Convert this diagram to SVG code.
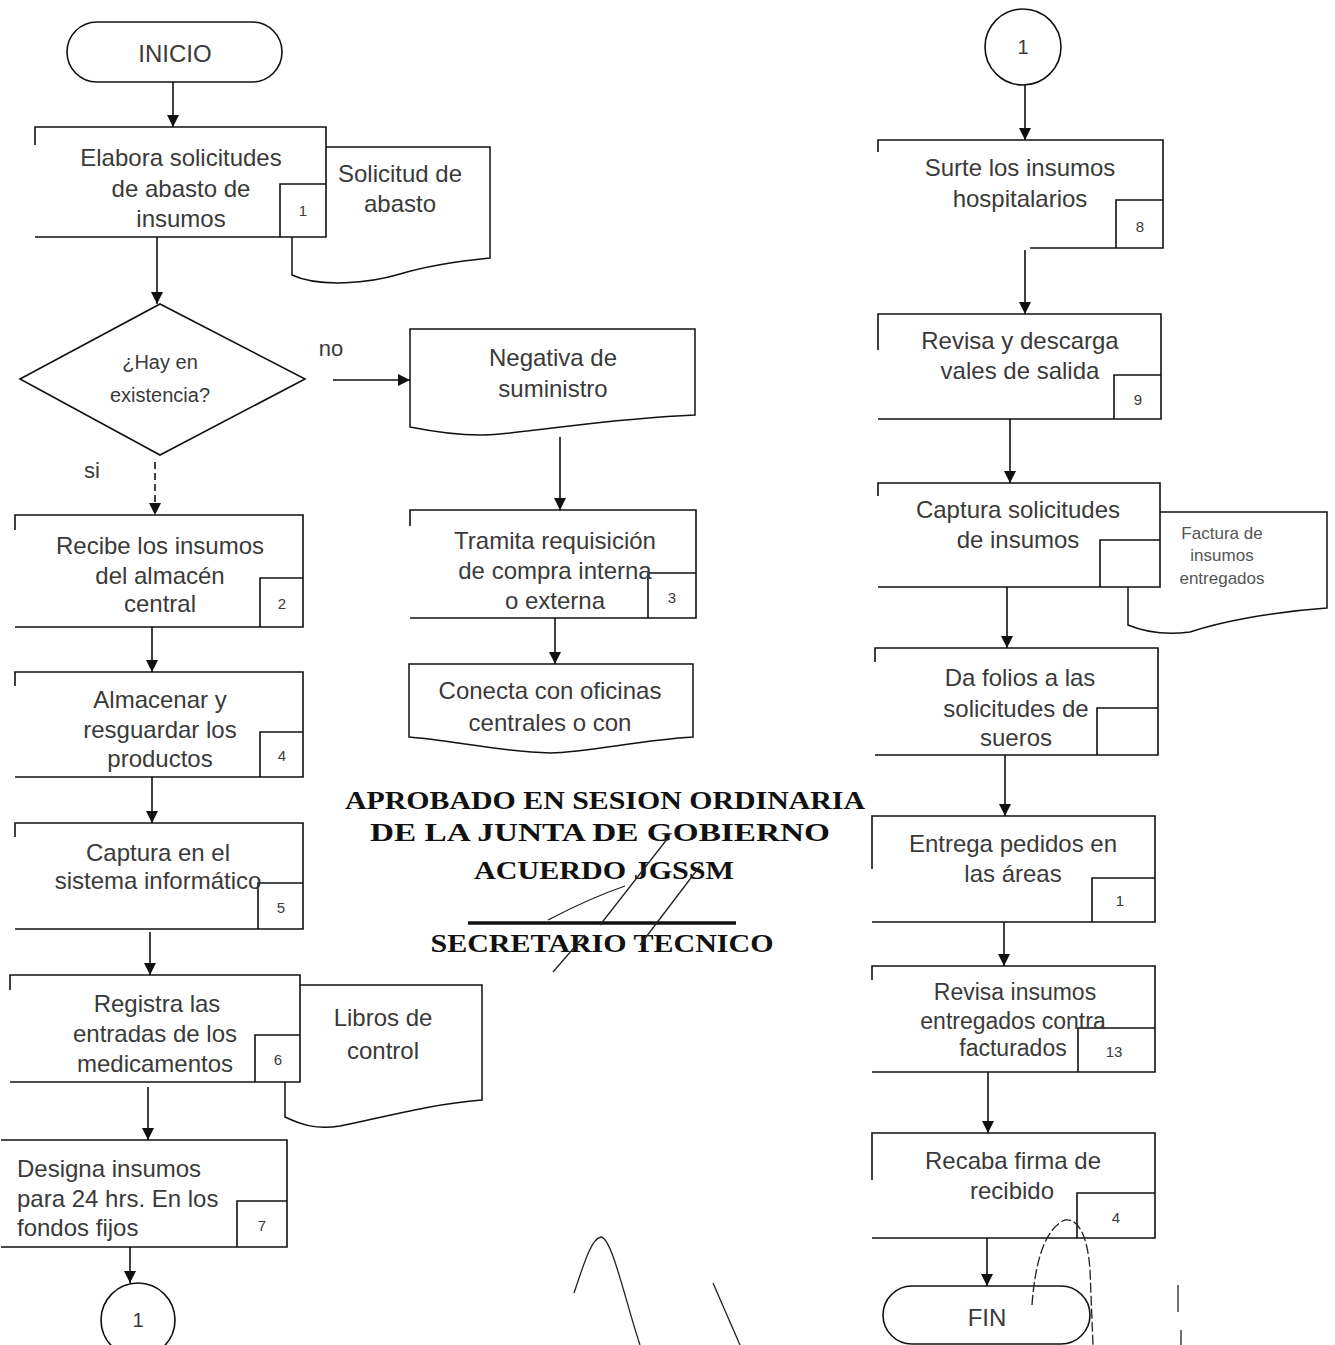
<svg xmlns="http://www.w3.org/2000/svg" width="1335" height="1345" viewBox="0 0 1335 1345">
  <defs>
    <style>
      .ln { stroke: #111; stroke-width: 1.6; fill: none; }
      .bx { fill: #fff; stroke: none; }
      .doc { fill: #fff; stroke: #111; stroke-width: 1.5; }
      .t { font-family: "Liberation Sans", Arial, sans-serif; font-size: 24px; fill: #3a3a3a; text-anchor: middle; dominant-baseline: central; }
      .tl { text-anchor: start; }
      .n { font-size: 15px; }
      .sm { font-size: 17px; fill: #555; }
      .st { font-family: "Liberation Serif", "Times New Roman", serif; font-weight: bold; font-size: 26px; fill: #111; text-anchor: middle; }
      .sig { stroke: #222; stroke-width: 1.3; fill: none; }
    </style>
    <!-- filled triangular arrowhead, tip at the path end -->
    <marker id="ah" markerWidth="14" markerHeight="14" refX="13" refY="7" orient="auto" markerUnits="userSpaceOnUse" viewBox="0 0 14 14">
      <path d="M1 1 L13 7 L1 13 Z" fill="#111"/>
    </marker>
  </defs>

  <rect width="1335" height="1345" fill="#fff"/>

  <!-- documents (drawn under the process boxes that overlap them) -->
  <g id="doc-solicitud">
    <path class="doc" d="M292 147 H490 V258 C450 262 420 268 400 274 C370 283 320 288 292 275 Z"/>
    <text class="t" x="400" y="173">Solicitud de</text>
    <text class="t" x="400" y="203">abasto</text>
  </g>
  <g id="doc-libros">
    <path class="doc" d="M285 985 H482 V1100 C430 1104 380 1118 340 1126 C315 1130 300 1124 285 1117 Z"/>
    <text class="t" x="383" y="1017">Libros de</text>
    <text class="t" x="383" y="1050">control</text>
  </g>
  <g id="doc-factura">
    <path class="doc" d="M1128 512 H1327 V608 C1270 612 1220 622 1190 632 C1160 636 1140 630 1128 625 Z"/>
    <text class="t sm" x="1222" y="533">Factura de</text>
    <text class="t sm" x="1222" y="555">insumos</text>
    <text class="t sm" x="1222" y="578">entregados</text>
  </g>

  <!-- left column -->
  <g id="inicio">
    <rect class="ln" x="67" y="22" width="215" height="60" rx="30"/>
    <text class="t" x="175" y="53">INICIO</text>
  </g>

  <g id="p1">
    <rect class="bx" x="35" y="127" width="291" height="110"/>
    <path class="ln" d="M35 145 V127 H326 V237 H35 M280 237 V184 H326"/>
    <text class="t" x="181" y="157">Elabora solicitudes</text>
    <text class="t" x="181" y="188">de abasto de</text>
    <text class="t" x="181" y="218">insumos</text>
    <text class="t n" x="303" y="210">1</text>
  </g>

  <g id="decision">
    <polygon class="ln" points="20,379 160,304 305,379 160,455"/>
    <text class="t" x="160" y="362" style="font-size:20px">¿Hay en</text>
    <text class="t" x="160" y="395" style="font-size:20px">existencia?</text>
  </g>

  <g id="p2">
    <path class="ln" d="M15 530 V515 H303 V627 H15 M260 627 V578 H303"/>
    <text class="t" x="160" y="545">Recibe los insumos</text>
    <text class="t" x="160" y="575">del almacén</text>
    <text class="t" x="160" y="603">central</text>
    <text class="t n" x="282" y="603">2</text>
  </g>

  <g id="p4">
    <path class="ln" d="M15 686 V672 H303 V777 H15 M260 777 V732 H303"/>
    <text class="t" x="160" y="699">Almacenar y</text>
    <text class="t" x="160" y="729">resguardar los</text>
    <text class="t" x="160" y="758">productos</text>
    <text class="t n" x="282" y="755">4</text>
  </g>

  <g id="p5">
    <path class="ln" d="M15 837 V823 H303 V929 H15 M258 929 V883 H303"/>
    <text class="t" x="158" y="852">Captura en el</text>
    <text class="t" x="158" y="880">sistema informático</text>
    <text class="t n" x="281" y="907">5</text>
  </g>

  <g id="p6">
    <rect class="bx" x="10" y="975" width="290" height="107"/>
    <path class="ln" d="M10 990 V975 H300 V1082 H10 M255 1082 V1035 H300"/>
    <text class="t" x="157" y="1003">Registra las</text>
    <text class="t" x="155" y="1033">entradas de los</text>
    <text class="t" x="155" y="1063">medicamentos</text>
    <text class="t n" x="278" y="1059">6</text>
  </g>

  <g id="p7">
    <path class="ln" d="M1 1140 H287 V1247 H1 M237 1247 V1201 H287"/>
    <text class="t tl" x="17" y="1168">Designa insumos</text>
    <text class="t tl" x="17" y="1198">para 24 hrs. En los</text>
    <text class="t tl" x="17" y="1227">fondos fijos</text>
    <text class="t n" x="262" y="1225">7</text>
  </g>

  <g id="con-1a">
    <circle class="ln" cx="138" cy="1320" r="37"/>
    <text class="t" x="138" y="1320" style="font-size:20px">1</text>
  </g>

  <!-- middle column -->
  <g id="doc-negativa">
    <path class="doc" d="M410 329 H695 V415 C620 418 560 428 500 434 C470 437 440 433 410 427 Z"/>
    <text class="t" x="553" y="357">Negativa de</text>
    <text class="t" x="553" y="388">suministro</text>
  </g>

  <g id="p3">
    <path class="ln" d="M410 526 V510 H696 V618 H410 M648 618 V573 H696"/>
    <text class="t" x="555" y="540">Tramita requisición</text>
    <text class="t" x="555" y="570">de compra interna</text>
    <text class="t" x="555" y="600">o externa</text>
    <text class="t n" x="672" y="597">3</text>
  </g>

  <g id="doc-conecta">
    <path class="doc" d="M409 664 H693 V737 C640 740 590 752 550 753 C500 752 450 740 409 737 Z"/>
    <text class="t" x="550" y="690">Conecta con oficinas</text>
    <text class="t" x="550" y="722">centrales o con</text>
  </g>

  <!-- right column -->
  <g id="con-1b">
    <circle class="ln" cx="1023" cy="47" r="38"/>
    <text class="t" x="1023" y="47" style="font-size:20px">1</text>
  </g>

  <g id="p8">
    <path class="ln" d="M878 152 V140 H1163 V248 H1030 M1116 248 V200 H1163"/>
    <text class="t" x="1020" y="167">Surte los insumos</text>
    <text class="t" x="1020" y="198">hospitalarios</text>
    <text class="t n" x="1140" y="226">8</text>
  </g>

  <g id="p9">
    <path class="ln" d="M878 350 V314 H1161 V419 H878 M1114 419 V375 H1161"/>
    <text class="t" x="1020" y="340">Revisa y descarga</text>
    <text class="t" x="1020" y="370">vales de salida</text>
    <text class="t n" x="1138" y="399">9</text>
  </g>

  <g id="p10">
    <rect class="bx" x="878" y="483" width="282" height="104"/>
    <path class="ln" d="M878 496 V483 H1160 V587 H878 M1100 587 V540 H1160"/>
    <text class="t" x="1018" y="509">Captura solicitudes</text>
    <text class="t" x="1018" y="539">de insumos</text>
  </g>

  <g id="p11">
    <path class="ln" d="M875 662 V648 H1158 V755 H875 M1097 755 V708 H1158"/>
    <text class="t" x="1020" y="677">Da folios a las</text>
    <text class="t" x="1016" y="708">solicitudes de</text>
    <text class="t" x="1016" y="737">sueros</text>
  </g>

  <g id="p12">
    <path class="ln" d="M872 869 V816 H1155 V922 H872 M1092 922 V878 H1155"/>
    <text class="t" x="1013" y="843">Entrega pedidos en</text>
    <text class="t" x="1013" y="873">las áreas</text>
    <text class="t n" x="1120" y="900">1</text>
  </g>

  <g id="p13">
    <path class="ln" d="M872 980 V966 H1155 V1072 H872 M1078 1072 V1028 H1155"/>
    <text class="t" x="1015" y="992" style="font-size:23px">Revisa insumos</text>
    <text class="t" x="1013" y="1021" style="font-size:23px">entregados contra</text>
    <text class="t" x="1013" y="1048" style="font-size:23px">facturados</text>
    <text class="t n" x="1114" y="1051">13</text>
  </g>

  <g id="p14">
    <path class="ln" d="M872 1180 V1133 H1155 V1238 H872 M1077 1238 V1193 H1155"/>
    <text class="t" x="1013" y="1160">Recaba firma de</text>
    <text class="t" x="1012" y="1190">recibido</text>
    <text class="t n" x="1116" y="1217">4</text>
  </g>

  <g id="fin">
    <rect class="ln" x="883" y="1286" width="207" height="58" rx="29"/>
    <text class="t" x="987" y="1317">FIN</text>
  </g>

  <!-- connectors -->
  <g id="connectors" class="ln">
    <path d="M173 82 V127" marker-end="url(#ah)"/>
    <path d="M157 237 V304" marker-end="url(#ah)"/>
    <path d="M333 380 H410" marker-end="url(#ah)"/>
    <path d="M155 462 V515" marker-end="url(#ah)" stroke-dasharray="7 4"/>
    <path d="M560 437 V510" marker-end="url(#ah)"/>
    <path d="M555 618 V664" marker-end="url(#ah)"/>
    <path d="M152 627 V672" marker-end="url(#ah)"/>
    <path d="M152 777 V823" marker-end="url(#ah)"/>
    <path d="M150 932 V975" marker-end="url(#ah)"/>
    <path d="M148 1087 V1140" marker-end="url(#ah)"/>
    <path d="M130 1247 V1283" marker-end="url(#ah)"/>
    <path d="M1025 85 V140" marker-end="url(#ah)"/>
    <path d="M1025 250 V314" marker-end="url(#ah)"/>
    <path d="M1010 419 V483" marker-end="url(#ah)"/>
    <path d="M1007 587 V648" marker-end="url(#ah)"/>
    <path d="M1005 755 V816" marker-end="url(#ah)"/>
    <path d="M1004 922 V966" marker-end="url(#ah)"/>
    <path d="M988 1072 V1133" marker-end="url(#ah)"/>
    <path d="M987 1238 V1286" marker-end="url(#ah)"/>
  </g>

  <!-- branch labels -->
  <text class="t" x="331" y="348" style="font-size:22px">no</text>
  <text class="t" x="92" y="470" style="font-size:22px">si</text>

  <!-- approval stamp -->
  <g id="stamp">
    <text class="st" x="605" y="809" textLength="520" lengthAdjust="spacingAndGlyphs">APROBADO EN SESION ORDINARIA</text>
    <text class="st" x="600" y="841" textLength="460" lengthAdjust="spacingAndGlyphs">DE LA JUNTA DE GOBIERNO</text>
    <text class="st" x="604" y="879" textLength="260" lengthAdjust="spacingAndGlyphs">ACUERDO JGSSM</text>
    <line x1="468" y1="923" x2="736" y2="923" stroke="#111" stroke-width="3.5"/>
    <text class="st" x="602" y="952" textLength="343" lengthAdjust="spacingAndGlyphs">SECRETARIO TECNICO</text>
  </g>

  <!-- signatures -->
  <g id="signatures" class="sig">
    <path d="M668 838 L600 925"/>
    <path d="M625 886 Q590 898 548 920"/>
    <path d="M700 866 L640 945"/>
    <path d="M585 935 L553 972"/>
    <path d="M574 1293 C585 1260 592 1238 601 1237 C612 1238 625 1300 640 1345"/>
    <path d="M713 1283 L740 1345"/>
    <path d="M1032 1305 C1035 1262 1045 1228 1065 1220 C1080 1218 1088 1240 1090 1270 L1093 1345" stroke-dasharray="10 3"/>
    <path d="M1178 1285 V1312"/>
    <path d="M1181 1330 V1345"/>
  </g>
</svg>
